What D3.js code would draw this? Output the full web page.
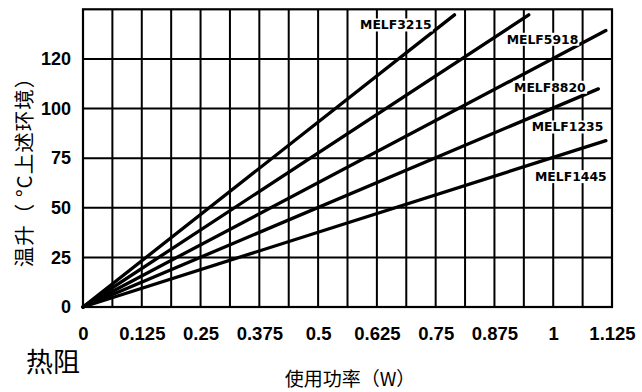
<!DOCTYPE html>
<html><head><meta charset="utf-8">
<script src="https://cdn.jsdelivr.net/npm/d3@7"></script>
<style>body{margin:0;background:#fff}svg{display:block}</style>
</head><body>
<script>
// Data
const seriesNames = ["MELF3215","MELF5918","MELF8820","MELF1235","MELF1445"];
const endPower = [0.79, 0.948, 1.112, 1.096, 1.112];   // W at end of each line
const endTemp  = [147.2, 147.2, 139.3, 109.9, 83.8];   // °C rise at end
const xTickValues = [0,0.125,0.25,0.375,0.5,0.625,0.75,0.875,1,1.125];
const xTickLabels = ["0","0.125","0.25","0.375","0.5","0.625","0.75","0.875","1","1.125"];
const yTickValues = [0,25,50,75,100,125];
const yTickLabels = ["0","25","50","75","100","120"];
const labelPos = [ // label anchor (data coords: right edge, center)
  [0.7416, 142.1],[1.0533, 134.9],[1.0691, 110.7],[1.1065, 90.7],[1.1137, 65.7]
];

const W=642,H=392;
const svg=d3.select("body").append("svg").attr("width",W).attr("height",H);
const x=d3.scaleLinear().domain([0,1.125]).range([83,612]);
const y=d3.scaleLinear().domain([0,150]).range([307,9.3]);

const g=svg.append("g");
// vertical grid
const vgrid=d3.range(1,18).map(i=>i*1.125/18);
g.selectAll(".vg").data(vgrid).enter().append("line")
 .attr("x1",d=>x(d)).attr("x2",d=>x(d)).attr("y1",y(150)).attr("y2",y(0))
 .attr("stroke","#000").attr("stroke-width",2);
g.selectAll(".hg").data(yTickValues.slice(1)).enter().append("line")
 .attr("x1",x(0)).attr("x2",x(1.125)).attr("y1",d=>y(d)).attr("y2",d=>y(d))
 .attr("stroke","#000").attr("stroke-width",2);
g.append("rect").attr("x",x(0)).attr("y",y(150)).attr("width",x(1.125)-x(0)).attr("height",y(0)-y(150))
 .attr("fill","none").attr("stroke","#000").attr("stroke-width",2.2);

// series lines
const line=d3.line().x(d=>x(d[0])).y(d=>y(d[1]));
seriesNames.forEach((n,i)=>{
  g.append("path").datum([[0,0],[endPower[i],endTemp[i]]]).attr("d",line)
   .attr("fill","none").attr("stroke","#000").attr("stroke-width",3.3).attr("stroke-linecap","round");
});

// labels with white background
seriesNames.forEach((n,i)=>{
  const t=g.append("text").attr("x",x(labelPos[i][0])).attr("y",y(labelPos[i][1]))
   .attr("text-anchor","end").attr("dominant-baseline","central")
   .attr("font-family","DejaVu Sans").attr("font-weight","bold").attr("font-size",12.4)
   .text(n);
  const b=t.node().getBBox();
  g.insert("rect",()=>t.node()).attr("x",b.x-1).attr("y",b.y+1).attr("width",b.width+2).attr("height",b.height-2).attr("fill","#fff");
});

// axes
const xAxis=d3.axisBottom(x).tickValues(xTickValues).tickFormat((d,i)=>xTickLabels[i]).tickSize(0).tickPadding(0);
const xa=svg.append("g").attr("transform","translate(0,327)").call(xAxis);
xa.select(".domain").remove();
xa.selectAll("text").attr("font-family","Liberation Sans, Arial").attr("font-weight","bold").attr("font-size",18.5).attr("fill","#000").attr("dy","0.71em");

const yAxis=d3.axisLeft(y).tickValues(yTickValues).tickFormat((d,i)=>yTickLabels[i]).tickSize(0).tickPadding(0);
const ya=svg.append("g").attr("transform","translate(71,0)").call(yAxis);
ya.select(".domain").remove();
ya.selectAll("text").attr("font-family","Liberation Sans, Arial").attr("font-weight","bold").attr("font-size",18).attr("fill","#000");

// titles
svg.append("text").attr("x",350).attr("y",386).attr("text-anchor","middle")
 .attr("font-family","Noto Sans CJK SC").attr("font-size",19).text("使用功率（W）");
svg.append("text").attr("transform","translate(31.5,167) rotate(-90)").attr("text-anchor","middle")
 .attr("font-family","Noto Sans CJK SC").attr("font-size",20.5).attr("letter-spacing",1)
 .attr("xml:space","preserve").text("温升（ °C上述环境）");
svg.append("text").attr("x",26).attr("y",372)
 .attr("font-family","Noto Sans CJK SC").attr("font-size",27).text("热阻");
</script>
</body></html>
